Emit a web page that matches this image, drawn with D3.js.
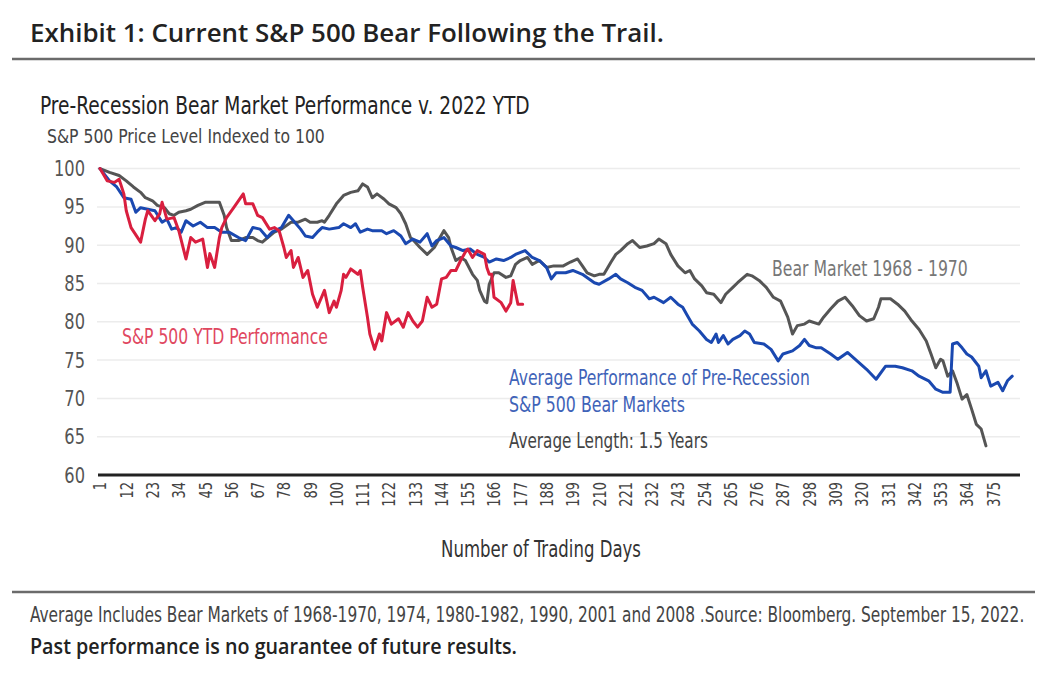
<!DOCTYPE html>
<html>
<head>
<meta charset="utf-8">
<script src="https://cdnjs.cloudflare.com/ajax/libs/d3/7.8.5/d3.min.js"></script>
<style>
  html, body { margin: 0; padding: 0; background: #fff; }
  svg { display: block; }
  .narrow { font-family: 'Liberation Sans Narrow', 'DejaVu Sans Condensed', 'Roboto Condensed', 'Liberation Sans', sans-serif; font-stretch: condensed; }
  .open { font-family: 'Open Sans', 'Noto Sans', sans-serif; }
</style>
</head>
<body>
<svg id="chart" width="1062" height="682"></svg>
<script>
// ---------- DATA ----------
const xTickLabels = [1, 12, 23, 34, 45, 56, 67, 78, 89, 100, 111, 122, 133, 144, 155, 166, 177, 188, 199, 210,
  221, 232, 243, 254, 265, 276, 287, 298, 309, 320, 331, 342, 353, 364, 375];
const yTickLabels = [60, 65, 70, 75, 80, 85, 90, 95, 100];

// S&P 500 2022 YTD performance: trading day
const ytdDays = [1, 4, 7, 9, 11, 12, 14, 18, 20, 21, 24, 26, 27, 29, 32, 34, 37, 39, 41, 44, 46, 47, 49, 51, 52, 54, 57,
  61, 62, 65, 67, 69, 72, 74, 76, 78, 79, 81, 82, 84, 86, 88, 90, 92, 95, 97, 99, 100, 102, 103, 104, 106, 109, 110,
  111, 113, 114, 116, 118, 119, 121, 123, 126, 128, 130, 132, 134, 136, 138, 140, 142, 144, 146, 148, 150, 152, 154,
  155, 157, 159, 162, 163, 164, 165, 166, 169, 171, 173, 174, 176, 178];
const ytdValues = [100, 98.4, 98.2, 98.6, 96.7, 94.5, 92.3, 90.4, 93.4, 94.5, 93.2, 94.1, 95.6, 93.4, 93.6, 91.9, 88.2,
  91.0, 90.4, 90.8, 87.1, 88.9, 87.1, 91.0, 92.3, 93.6, 94.9, 96.7, 95.4, 95.4, 93.9, 93.6, 92.1, 92.3, 91.9, 89.7,
  88.4, 89.3, 87.1, 88.4, 85.8, 86.7, 83.6, 81.9, 84.1, 81.2, 82.7, 81.9, 84.1, 86.2, 85.8, 86.9, 86.2, 86.7, 84.5,
  80.6, 78.4, 76.4, 78.4, 77.5, 81.2, 79.7, 80.4, 79.3, 81.2, 80.1, 79.3, 80.1, 83.2, 81.9, 82.3, 85.6, 85.8, 86.7,
  86.7, 88.0, 89.1, 89.5, 88.4, 89.3, 88.8, 87.1, 86.2, 86.2, 83.2, 82.5, 81.4, 82.5, 85.4, 82.3, 82.3];

// Average performance of pre-recession S&P 500 bear markets
const avgDays = [1, 5, 8, 11, 14, 16, 18, 21, 24, 27, 29, 31, 33, 35, 37, 40, 43, 46, 49, 52, 55, 59, 62, 65, 68, 71,
  73, 77, 80, 82, 85, 87, 90, 92, 94, 97, 101, 103, 106, 108, 110, 113, 115, 119, 121, 124, 127, 129, 132, 135, 138,
  140, 142, 145, 148, 150, 153, 156, 159, 162, 164, 167, 170, 173, 175, 179, 182, 185, 188, 190, 192, 196, 199, 203,
  208, 210, 214, 217, 219, 222, 225, 228, 231, 233, 237, 240, 243, 245, 247, 249, 252, 255, 257, 259, 260, 262, 264,
  266, 269, 271, 273, 275, 279, 282, 285, 287, 291, 294, 296, 298, 301, 303, 307, 310, 314, 318, 322, 326, 330, 334,
  337, 341, 344, 348, 351, 354, 357, 358, 360, 362, 364, 366, 369, 370, 372, 374, 377, 379, 381, 383];
const avgValues = [100, 98.4, 97.6, 96.2, 96.0, 94.3, 94.9, 94.7, 94.5, 93.0, 93.4, 92.1, 92.3, 91.7, 93.2, 92.5, 93.0,
  92.3, 92.3, 91.7, 91.7, 91.0, 90.6, 92.3, 92.1, 91.0, 91.7, 92.3, 93.9, 93.2, 92.1, 91.2, 91.0, 91.7, 92.3, 92.1,
  92.3, 92.8, 92.3, 92.8, 91.7, 92.1, 91.9, 91.9, 91.5, 91.9, 91.2, 90.2, 90.8, 90.4, 91.5, 89.9, 90.6, 91.0, 89.9,
  89.7, 89.3, 89.5, 88.8, 88.4, 87.8, 88.2, 88.0, 88.4, 88.8, 89.3, 88.4, 88.0, 87.1, 85.6, 86.4, 86.4, 86.7, 86.2,
  85.1, 84.9, 85.6, 86.2, 85.6, 85.1, 84.5, 84.1, 83.0, 83.2, 82.5, 83.2, 82.3, 81.9, 80.8, 79.7, 78.8, 77.7, 77.3,
  78.4, 77.3, 78.2, 77.1, 77.7, 78.2, 78.8, 78.4, 77.3, 77.1, 76.4, 74.9, 75.8, 76.2, 76.9, 77.7, 76.9, 76.6, 76.6,
  75.8, 75.1, 76.0, 74.9, 73.8, 72.5, 74.2, 74.2, 74.0, 73.6, 72.9, 72.3, 71.2, 70.8, 70.8, 77.1, 77.3, 76.6, 75.8,
  75.4, 74.2, 72.7, 73.6, 71.6, 72.1, 71.0, 72.3, 72.9];

// Bear market 1968 - 1970
const bearDays = [1, 5, 9, 12, 15, 18, 20, 23, 25, 28, 30, 32, 34, 37, 39, 42, 45, 48, 51, 53, 54, 56, 59, 62, 65, 67,
  69, 72, 74, 77, 81, 84, 87, 89, 92, 94, 95, 97, 100, 103, 106, 109, 111, 113, 115, 117, 120, 122, 125, 127, 129, 131,
  133, 135, 138, 141, 143, 145, 147, 148, 150, 152, 154, 157, 159, 160, 162, 163, 164, 166, 168, 171, 173, 175, 177,
  180, 182, 185, 188, 191, 192, 195, 198, 201, 203, 205, 208, 210, 212, 215, 217, 219, 222, 224, 227, 230, 233, 235,
  238, 240, 243, 246, 248, 250, 253, 255, 258, 261, 263, 266, 268, 272, 274, 277, 280, 283, 286, 289, 291, 293, 296,
  298, 302, 304, 307, 310, 313, 316, 319, 322, 325, 327, 328, 332, 335, 338, 341, 344, 347, 349, 351, 353, 354, 356,
  358, 360, 362, 364, 366, 368, 370, 372];
const bearValues = [100, 99.5, 99.1, 98.4, 97.6, 96.9, 96.2, 95.8, 95.2, 94.9, 94.1, 93.9, 94.3, 94.5, 94.7, 95.2, 95.6,
  95.6, 95.6, 93.9, 92.3, 90.6, 90.6, 91.0, 91.0, 90.6, 90.4, 91.2, 91.7, 92.1, 93.0, 93.0, 93.4, 93.0, 93.0, 93.2,
  93.0, 93.9, 95.4, 96.5, 96.9, 97.1, 98.0, 97.6, 96.2, 96.7, 96.0, 95.4, 94.9, 94.1, 92.8, 91.0, 90.4, 89.7, 88.8,
  89.7, 90.8, 91.9, 91.0, 89.7, 88.0, 88.4, 88.0, 86.2, 85.4, 84.1, 82.7, 82.5, 84.9, 86.4, 86.4, 85.8, 86.0, 87.5,
  88.0, 88.4, 87.5, 88.0, 87.1, 87.3, 87.3, 87.3, 87.8, 88.2, 87.3, 86.4, 86.0, 86.2, 86.2, 87.8, 88.8, 89.3, 90.2,
  90.6, 89.7, 89.9, 90.2, 90.8, 90.2, 88.8, 87.3, 86.4, 86.7, 85.6, 84.7, 83.8, 83.6, 82.5, 83.6, 84.5, 85.1, 86.2,
  86.0, 85.4, 84.5, 83.2, 82.7, 80.6, 78.4, 79.5, 79.7, 80.1, 79.7, 80.6, 81.7, 82.7, 83.2, 82.1, 80.8, 80.1, 80.4,
  81.9, 83.0, 83.0, 82.3, 81.4, 80.1, 79.0, 77.5, 75.8, 74.0, 75.1, 74.9, 72.9, 73.6, 71.9, 69.9, 70.5, 68.6, 66.6,
  66.0, 63.8];

// ---------- DRAWING ----------
const svg = d3.select('#chart');
const x = d3.scaleLinear().domain([1, 385]).range([100, 1017]);
const y = d3.scaleLinear().domain([60, 100]).range([475, 168.6]);

// Place a text at (tx, ty) and scale it horizontally to a target width (condensed look)
function placeText(cls, t, tx, ty, size, col, width, weight, anchor) {
  const el = svg.append('text').attr('class', cls)
    .attr('font-size', size).attr('fill', col)
    .attr('font-weight', weight || 400)
    .attr('text-anchor', anchor || 'start')
    .text(t);
  const w = el.node().getComputedTextLength();
  const sx = w > 0 ? width / w : 1;
  el.attr('transform', `translate(${tx},${ty}) scale(${sx},1)`);
  return el;
}

// Title
placeText('open', 'Exhibit 1: Current S&P 500 Bear Following the Trail.', 30, 42, 26, '#222', 634, 600);
svg.append('line').attr('x1', 12).attr('x2', 1035).attr('y1', 59).attr('y2', 59)
  .attr('stroke', '#6b6b6b').attr('stroke-width', 2.5);

// Chart titles
placeText('narrow', 'Pre-Recession Bear Market Performance v. 2022 YTD', 40, 114, 24, '#222', 490);
placeText('narrow', 'S&P 500 Price Level Indexed to 100', 47, 143, 20, '#444', 278);

// Gridlines
svg.append('g').selectAll('line').data(yTickLabels.filter(d => d !== 60)).join('line')
  .attr('x1', 97).attr('x2', 1020)
  .attr('y1', d => y(d)).attr('y2', d => y(d))
  .attr('stroke', '#ececec').attr('stroke-width', 1.5);

// Y axis labels
const yAxis = d3.axisLeft(y).tickValues(yTickLabels).tickSize(0).tickPadding(0).tickFormat(d3.format('d'));
const gy = svg.append('g').attr('transform', 'translate(85,0)').call(yAxis);
gy.select('.domain').remove();
gy.selectAll('text').attr('class', 'narrow').attr('font-size', 22).attr('fill', '#555')
  .each(function () {
    const w = this.getComputedTextLength();
    d3.select(this).attr('textLength', w * 0.82).attr('lengthAdjust', 'spacingAndGlyphs');
  });

// X axis
const xAxis = d3.axisBottom(x).tickValues(xTickLabels).tickSize(0).tickPadding(0).tickFormat(d3.format('d'));
const gx = svg.append('g').attr('transform', 'translate(0,475)').call(xAxis);
gx.select('.domain').remove();
gx.selectAll('text').attr('class', 'narrow').attr('font-size', 17).attr('fill', '#444')
  .attr('transform', 'rotate(-90)').attr('text-anchor', 'end')
  .attr('x', -7).attr('y', 0).attr('dy', '0.35em')
  .each(function () {
    const w = this.getComputedTextLength();
    d3.select(this).attr('textLength', w * 0.85).attr('lengthAdjust', 'spacingAndGlyphs');
  });
svg.append('line').attr('x1', 98).attr('x2', 1020).attr('y1', y(60)).attr('y2', y(60))
  .attr('stroke', '#222').attr('stroke-width', 3);

placeText('narrow', 'Number of Trading Days', 541, 557, 23, '#333', 200, 400, 'middle');

// Lines
const line = d3.line().x(d => x(d[0])).y(d => y(d[1]));
const series = [
  { days: bearDays, values: bearValues, color: '#555555' },
  { days: avgDays, values: avgValues, color: '#1a48b0' },
  { days: ytdDays, values: ytdValues, color: '#d91f3f' }
];
svg.append('g').selectAll('path').data(series).join('path')
  .attr('d', s => line(s.days.map((d, i) => [d, s.values[i]])))
  .attr('fill', 'none').attr('stroke', s => s.color).attr('stroke-width', 3)
  .attr('stroke-linejoin', 'round').attr('stroke-linecap', 'round');

// Annotations
placeText('narrow', 'Bear Market 1968 - 1970', 772, 276, 22, '#777', 196);
placeText('narrow', 'S&P 500 YTD Performance', 122, 344, 22, '#e0475f', 206);
placeText('narrow', 'Average Performance of Pre-Recession', 509, 385, 22, '#3f63b8', 301);
placeText('narrow', 'S&P 500 Bear Markets', 509, 412, 22, '#3f63b8', 176);
placeText('narrow', 'Average Length: 1.5 Years', 509, 448, 22, '#444', 199);

// Footer
svg.append('line').attr('x1', 12).attr('x2', 1035).attr('y1', 592).attr('y2', 592)
  .attr('stroke', '#6b6b6b').attr('stroke-width', 2.5);
placeText('narrow', 'Average Includes Bear Markets of 1968-1970, 1974, 1980-1982, 1990, 2001 and 2008 .Source: Bloomberg. September 15, 2022.',
  30, 622, 21, '#444', 995);
placeText('open', 'Past performance is no guarantee of future results.', 30, 654, 21, '#222', 487, 600);
</script>
</body>
</html>
